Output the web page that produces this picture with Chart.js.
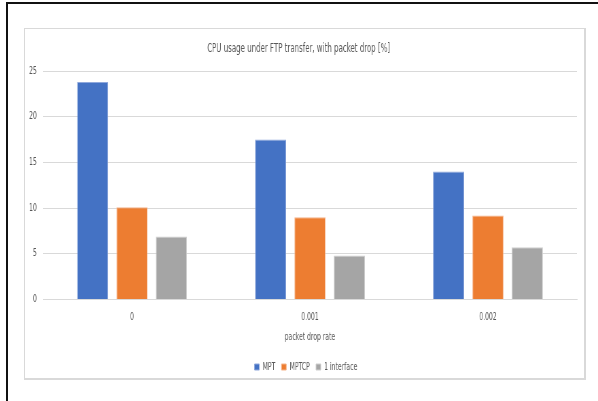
<!DOCTYPE html>
<html>
<head>
<meta charset="utf-8">
<script src="https://cdn.jsdelivr.net/npm/chart.js@4/dist/chart.umd.min.js"></script>
<style>
  html, body { margin: 0; padding: 0; background: #fff; }
  #wrap { position: relative; width: 598px; height: 401px; overflow: hidden; }
  #frameTop { position: absolute; left: 6px; top: 2px; width: 592px; height: 2px; background: #111; }
  #frameLeft { position: absolute; left: 6px; top: 2px; width: 2px; height: 399px; background: #111; }
  #box { position: absolute; left: 24px; top: 28px; width: 559px; height: 349px; border: 1px solid #d9d9d9; border-right-width: 2px; border-bottom-width: 2px; }
  #squeeze { position: absolute; left: 0; top: 0; width: 880px; height: 401px; transform: scaleX(0.6795); transform-origin: 0 0; }
  canvas { display: block; }
</style>
</head>
<body>
<div id="wrap">
  <div id="frameTop"></div>
  <div id="frameLeft"></div>
  <div id="box"></div>
  <div id="squeeze"><canvas id="c" width="880" height="401"></canvas></div>
</div>
<script>
const categories = ['0', '0.001', '0.002'];
const mptValues = [23.8, 17.5, 14.0];
const mptcpValues = [10.1, 9.0, 9.2];
const oneInterfaceValues = [6.9, 4.8, 5.7];
const yTicks = [0, 5, 10, 15, 20, 25];

const FONT = '"Liberation Sans Narrow", "DejaVu Sans Condensed", "Liberation Sans", sans-serif';
const TEXT = '#595959';

// Centre the legend under the plot area (as in the reference) instead of the whole canvas.
const legendShift = {
  id: 'legendShift',
  beforeDraw(chart) {
    const lg = chart.legend;
    if (!lg) return;
    const plotCenter = (chart.chartArea.left + chart.chartArea.right) / 2 - 6;
    const cur = (lg.left + lg.right) / 2;
    const d = plotCenter - cur;
    lg.left += d; lg.right += d;
  }
};

new Chart(document.getElementById('c'), {
  type: 'bar',
  data: {
    labels: categories,
    datasets: [
      { label: 'MPT', data: mptValues, backgroundColor: '#4472C4', borderColor: '#8fa8dc', borderWidth: 1 },
      { label: 'MPTCP', data: mptcpValues, backgroundColor: '#ED7D31', borderColor: '#f5b48a', borderWidth: 1 },
      { label: '1 interface', data: oneInterfaceValues, backgroundColor: '#A5A5A5', borderColor: '#cfcfcf', borderWidth: 1 }
    ]
  },
  plugins: [legendShift],
  options: {
    responsive: false,
    animation: false,
    devicePixelRatio: 1,
    layout: { padding: { left: 30, right: 31, top: 0, bottom: 19 } },
    datasets: { bar: { categoryPercentage: 0.664, barPercentage: 0.79 } },
    plugins: {
      title: {
        display: true,
        text: 'CPU usage under FTP transfer, with packet drop [%]',
        color: TEXT,
        font: { family: FONT, size: 11.5, weight: 'normal' },
        padding: { top: 42, bottom: 15.3 }
      },
      legend: {
        position: 'bottom',
        labels: {
          color: TEXT,
          font: { family: FONT, size: 10 },
          boxWidth: 7,
          boxHeight: 6,
          padding: 9
        }
      },
      tooltip: { enabled: false }
    },
    scales: {
      x: {
        grid: { display: false, drawTicks: false },
        border: { display: true, color: '#d9d9d9', width: 1 },
        ticks: { color: TEXT, font: { family: FONT, size: 10 }, padding: 12 },
        title: {
          display: true,
          text: 'packet drop rate',
          color: TEXT,
          font: { family: FONT, size: 10 },
          padding: { top: -4, bottom: 9.6 }
        }
      },
      y: {
        min: 0,
        max: 25,
        afterFit: (s) => { s.width = 33.3; },
        afterBuildTicks: (s) => { s.ticks = yTicks.map(v => ({ value: v })); },
        grid: { color: '#d9d9d9', lineWidth: 1, drawTicks: false },
        border: { display: false },
        ticks: { color: TEXT, font: { family: FONT, size: 10 }, padding: 9 }
      }
    }
  }
});
</script>
</body>
</html>
